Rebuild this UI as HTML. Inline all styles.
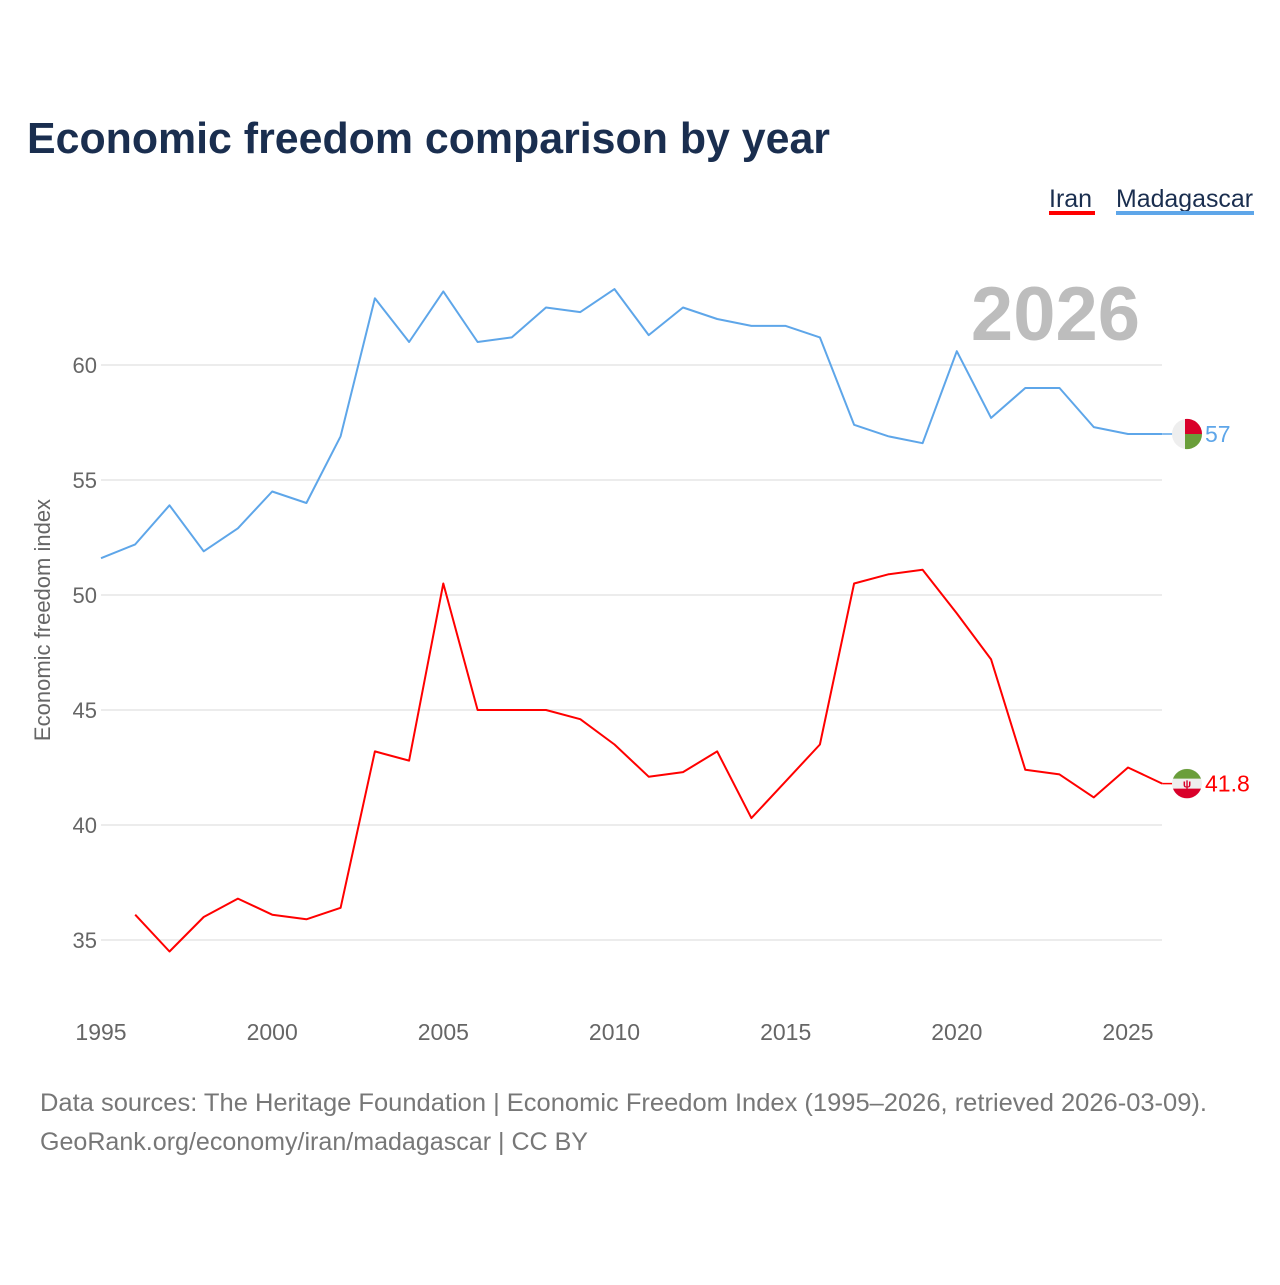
<!DOCTYPE html>
<html><head><meta charset="utf-8"><style>
body{margin:0;background:#fff;width:1280px;height:1280px;overflow:hidden;font-family:"Liberation Sans",sans-serif}
</style></head><body>
<svg id="chart" width="1280" height="1280" xmlns="http://www.w3.org/2000/svg" font-family="Liberation Sans, sans-serif">
<text x="27" y="153" font-size="44" font-weight="bold" fill="#1a2e4f" textLength="803" lengthAdjust="spacingAndGlyphs">Economic freedom comparison by year</text>
<g><text x="1049" y="207" font-size="25" fill="#1a2e4f">Iran</text><rect x="1049" y="211" width="46" height="4" fill="#ff0000"/></g>
<g><text x="1116" y="207" font-size="25" fill="#1a2e4f" textLength="137" lengthAdjust="spacingAndGlyphs">Madagascar</text><rect x="1116" y="211" width="138" height="4" fill="#5ea6e9"/></g>
<text x="1140" y="340" text-anchor="end" font-size="76" font-weight="bold" fill="#bdbdbd">2026</text>
<text transform="translate(50,620) rotate(-90)" text-anchor="middle" font-size="22" fill="#666">Economic freedom index</text>
<g id="grid"></g><g id="xticks"></g><g id="lines"></g>
<text x="40" y="1111" font-size="25" fill="#777" textLength="1167" lengthAdjust="spacingAndGlyphs">Data sources: The Heritage Foundation | Economic Freedom Index (1995–2026, retrieved 2026-03-09).</text>
<text x="40" y="1150" font-size="25" fill="#777" textLength="548" lengthAdjust="spacingAndGlyphs">GeoRank.org/economy/iran/madagascar | CC BY</text>
</svg>
<script>
const years=[1995,1996,1997,1998,1999,2000,2001,2002,2003,2004,2005,2006,2007,2008,2009,2010,2011,2012,2013,2014,2015,2016,2017,2018,2019,2020,2021,2022,2023,2024,2025,2026];
const madagascar=[51.6,52.2,53.9,51.9,52.9,54.5,54.0,56.9,62.9,61.0,63.2,61.0,61.2,62.5,62.3,63.3,61.3,62.5,62.0,61.7,61.7,61.2,57.4,56.9,56.6,60.6,57.7,59.0,59.0,57.3,57.0,57.0];
const iran=[null,36.1,34.5,36.0,36.8,36.1,35.9,36.4,43.2,42.8,50.5,45.0,45.0,45.0,44.6,43.5,42.1,42.3,43.2,40.3,41.9,43.5,50.5,50.9,51.1,49.2,47.2,42.4,42.2,41.2,42.5,41.8];
const yTicks=[35,40,45,50,55,60];
const xTicks=[1995,2000,2005,2010,2015,2020,2025];
const NS="http://www.w3.org/2000/svg";
const X=y=>101+(y-1995)*(1027/30);
const Y=v=>365+(60-v)*23;
function mk(t,a,p){const e=document.createElementNS(NS,t);for(const k in a)e.setAttribute(k,a[k]);p.appendChild(e);return e;}
const grid=document.getElementById('grid');
yTicks.forEach(v=>{
 const l=mk('line',{x1:101,x2:1162,y1:Y(v),y2:Y(v),stroke:'#e6e6e6','stroke-width':1.5},grid);
 
 
 const t=mk('text',{x:97,y:Y(v)+8,'text-anchor':'end','font-size':22,fill:'#666'},grid);
 t.textContent=v;
 
 
});
const xt=document.getElementById('xticks');
xTicks.forEach(v=>{
 const t=mk('text',{x:X(v),y:1040,'text-anchor':'middle','font-size':23,fill:'#666'},xt);
 t.textContent=v;
 
 
});
const lines=document.getElementById('lines');
function series(vals,color,name){
 let d='';vals.forEach((v,i)=>{if(v==null)return;d+=(d?'L':'M')+X(years[i]).toFixed(1)+','+Y(v).toFixed(1);});
 const p=mk('path',{d:d,fill:'none',stroke:color,'stroke-width':2,'stroke-linejoin':'round'},lines);
 
 
 const last=vals[vals.length-1];
 const cx=1187,cy=Y(last);
 mk('line',{x1:X(2026),x2:cx-14,y1:cy,y2:cy,stroke:color,'stroke-width':1.5},lines);
 const g=mk('g',{},lines);
 
 
 if(name==='madagascar'){
  mk('circle',{cx:cx,cy:cy,r:15,fill:'#eee'},g);
  mk('path',{d:`M${cx-2},${cy}V${cy-15}A15,15 0 0 1 ${cx+15},${cy}Z`,fill:'#d9002a'},g);
  mk('path',{d:`M${cx-2},${cy}V${cy+15}A15,15 0 0 0 ${cx+15},${cy}Z`,fill:'#6a9e3a'},g);
 }else{
  mk('circle',{cx:cx,cy:cy,r:15,fill:'#eee'},g);
  mk('path',{d:`M${cx-14},${cy-5}A15,15 0 0 1 ${cx+14},${cy-5}Z`,fill:'#6a9e3a'},g);
  mk('path',{d:`M${cx-14},${cy+5}A15,15 0 0 0 ${cx+14},${cy+5}Z`,fill:'#d9002a'},g);
  mk('text',{x:cx,y:cy+4,'text-anchor':'middle','font-size':11,fill:'#d9002a','font-weight':'bold'},g).textContent='ψ';
 }
 const t=mk('text',{x:1205,y:cy+8,'font-size':23,fill:color},lines);
 t.textContent=last;
 
 
}
series(madagascar,'#5ea6e9','madagascar');
series(iran,'#ff0000','iran');
</script>
</body></html>
